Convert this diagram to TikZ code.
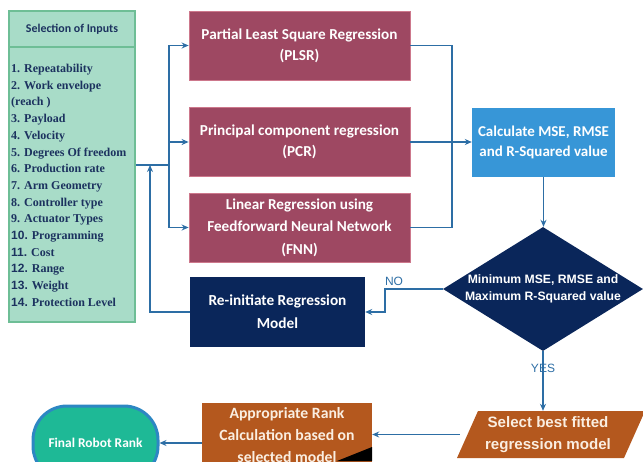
\documentclass[tikz,border=0pt]{standalone}
\usepackage{fontspec}
\setmainfont{Carlito}
\newfontfamily\arialf{Liberation Sans}
\newfontfamily\timesf{Liberation Serif}
\usetikzlibrary{arrows.meta,shapes.geometric}
\definecolor{lnc}{RGB}{45,110,165}
\definecolor{inbg}{RGB}{168,220,200}
\definecolor{inbd}{RGB}{110,190,150}
\definecolor{navytx}{RGB}{28,50,95}
\definecolor{maroon}{RGB}{158,72,98}
\definecolor{maroonb}{RGB}{205,120,140}
\definecolor{calcbl}{RGB}{55,150,215}
\definecolor{navy}{RGB}{10,38,90}
\definecolor{orng}{RGB}{180,88,30}
\definecolor{fing}{RGB}{30,185,150}
\definecolor{finb}{RGB}{45,135,195}
\definecolor{cream}{RGB}{250,238,225}
\tikzset{
  line/.style={draw=lnc, line width=1.4pt},
  arr/.style={line, -{Stealth[length=7pt,width=6pt]}},
  mbox/.style={fill=maroon, draw=maroonb, line width=0.8pt, text=white, align=center,
    font=\fontsize{15.2}{21}\selectfont\bfseries, minimum width=221, minimum height=69, inner sep=0},
  dbox/.style={fill=navy, text=white, align=center, inner sep=0,
    font=\fontsize{15.3}{23}\selectfont\bfseries},
  lbl/.style={text=lnc, inner sep=0, font=\arialf\fontsize{12}{14}\selectfont}
}
\begin{document}
\begin{tikzpicture}[x=1pt,y=-1pt]
\useasboundingbox (0,0) rectangle (643,461);
% inputs box
\node[fill=inbg, draw=inbd, line width=1.5pt, minimum width=126, minimum height=311, inner sep=0] (inp) at (72,166.5) {};
\draw[draw=inbd, line width=1.5pt] (inp.west |- 0,47) -- (inp.east |- 0,47);
\node[text=navytx, inner sep=0, font=\fontsize{11.9}{13}\selectfont\bfseries] (tit) at (72,29) {Selection of Inputs};
\node[anchor=north west, align=left, inner sep=0, text=navytx,
  font=\timesf\fontsize{12}{16.7}\selectfont\bfseries] (lst) at (11,64)
  {1. Repeatability\\2. Work envelope\\(reach )\\3. Payload\\4. Velocity\\5. Degrees Of freedom\\6. Production rate\\7. Arm Geometry\\8. Controller type\\9. Actuator Types\\{\arialf 10.} Programming\\{\arialf 11.} Cost\\{\arialf 12.} Range\\{\arialf 13.} Weight\\{\arialf 14.} Protection Level};
% regression boxes
\node[mbox] (plsr) at (299.5,45.5) {Partial Least Square Regression\\(PLSR)};
\node[mbox] (pcr) at (299.5,142) {Principal component regression\\(PCR)};
\node[mbox, font=\fontsize{15.2}{22.5}\selectfont\bfseries] (fnn) at (299.5,227.5) {Linear Regression using\\Feedforward Neural Network\\(FNN)};
% calc
\node[fill=calcbl, text=white, align=center, inner sep=0, minimum width=143, minimum height=69,
  font=\fontsize{15}{20}\selectfont\bfseries] (calc) at (543.5,142.5) {Calculate MSE, RMSE\\and R-Squared value};
% diamond
\node[diamond, fill=navy, minimum width=200, minimum height=124, inner sep=0] (dia) at (543,289) {};
\node[text=white, align=center, inner sep=0, font=\arialf\fontsize{12.2}{16.5}\selectfont\bfseries] (diat) at (dia) {Minimum MSE, RMSE and\\Maximum R-Squared value};
% reinitiate
\node[dbox, minimum width=175, minimum height=70] (re) at (277.5,312) {Re-initiate Regression\\Model};
% select
\fill[orng] (478,411) -- (645,411) -- (624,458) -- (457,458) -- cycle;
\node[text=cream, align=center, inner sep=0, minimum width=176, minimum height=47,
  font=\arialf\fontsize{15.1}{22}\selectfont\bfseries] (sel) at (548,434.5) {Select best fitted\\regression model};
% appropriate
\node[fill=orng, text=cream, align=center, inner sep=0, minimum width=170, minimum height=64,
  font=\fontsize{15.7}{22}\selectfont\bfseries] (app) at (287,435) {Appropriate Rank\\Calculation based on\\selected model};
\fill[black] (337,461) -- (372,447) -- (372,461) -- cycle;
% final
\node[fill=fing, draw=finb, line width=3pt, rounded corners=34, minimum width=125, minimum height=74,
  inner sep=0, text=white, font=\fontsize{13.4}{15}\selectfont\bfseries] (fin) at (95.5,443) {Final Robot Rank};
% connectors
\coordinate (tk) at (169,165);
\coordinate (fb) at (150,165);
\draw[line] (inp.east |- tk) -- (tk);
\draw[arr] (tk) |- (plsr.west);
\draw[arr] (tk) |- (pcr.west);
\draw[arr] (tk) |- (fnn.west);
\draw[arr] (re.west) -| (fb);
\coordinate (rt1) at (452,45.5);
\coordinate (rt2) at (452,227.5);
\draw[line] (plsr.east) -- (rt1) -- (rt2) -- (fnn.east);
\draw[arr] (pcr.east) -- (pcr.east -| calc.west);
\draw[arr] (calc.south) -- (calc.south |- dia.north);
\coordinate (nc) at (385,289);
\draw[arr] (dia.west) -- (nc) |- (re.east);
\node[lbl] (no) at (394,281) {NO};
\draw[arr] (dia.south) -- (dia.south |- sel.north);
\node[lbl] (yes) at (543,368) {YES};
\draw[arr] (sel.west) -- (sel.west -| app.east);
\draw[arr] (app.west |- fin.east) -- (fin.east);
\end{tikzpicture}
\end{document}
